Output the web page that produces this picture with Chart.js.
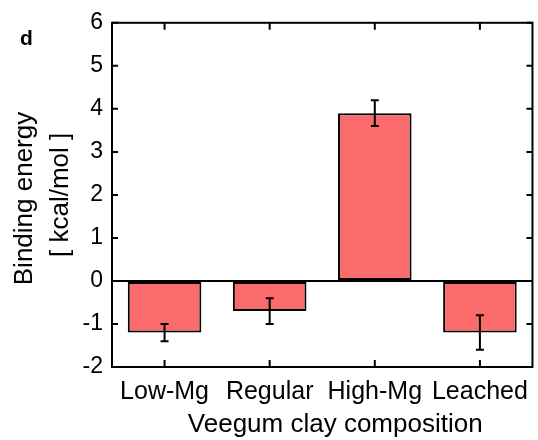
<!DOCTYPE html>
<html>
<head>
<meta charset="utf-8">
<script src="https://cdn.jsdelivr.net/npm/chart.js@4"></script>
<style>
  html, body { margin: 0; padding: 0; background: #fff; }
  #wrap { width: 538px; height: 440px; }
</style>
</head>
<body>
<div id="wrap"><canvas id="energyChart" width="538" height="440"></canvas></div>
<script>
// data
const clays = ["Low-Mg", "Regular", "High-Mg", "Leached"];
const energy = [-1.2, -0.7, 3.9, -1.2];
const energyErr = [0.2, 0.3, 0.3, 0.4];
const yTicks = [-2, -1, 0, 1, 2, 3, 4, 5, 6];

const FONT = "'Liberation Sans', Arial, sans-serif";

// frame, inward ticks, error bars and panel letter
const decorPlugin = {
  id: "decor",
  afterDatasetsDraw(chart) {
    const c = chart.ctx;
    const area = chart.chartArea;
    const x = chart.scales.x;
    const y = chart.scales.y;
    const meta = chart.getDatasetMeta(0);

    c.save();
    c.strokeStyle = "#000";
    c.lineWidth = 2;

    // error bars
    meta.data.forEach((bar, i) => {
      const top = y.getPixelForValue(energy[i] + energyErr[i]);
      const bot = y.getPixelForValue(energy[i] - energyErr[i]);
      c.beginPath();
      c.moveTo(bar.x, top);
      c.lineTo(bar.x, bot);
      c.moveTo(bar.x - 4, top);
      c.lineTo(bar.x + 4, top);
      c.moveTo(bar.x - 4, bot);
      c.lineTo(bar.x + 4, bot);
      c.stroke();
    });

    // box
    c.strokeRect(area.left, area.top, area.right - area.left, area.bottom - area.top);

    // ticks pointing in
    c.beginPath();
    y.ticks.forEach((t, i) => {
      const py = y.getPixelForTick(i);
      c.moveTo(area.left, py);
      c.lineTo(area.left + 6, py);
      c.moveTo(area.right, py);
      c.lineTo(area.right - 6, py);
    });
    x.ticks.forEach((t, i) => {
      const px = x.getPixelForTick(i);
      c.moveTo(px, area.top);
      c.lineTo(px, area.top + 7);
      c.moveTo(px, area.bottom);
      c.lineTo(px, area.bottom - 7);
    });
    c.stroke();

    // panel letter
    c.fillStyle = "#000";
    c.font = "bold 21px " + FONT;
    c.textAlign = "left";
    c.textBaseline = "alphabetic";
    c.fillText("d", 20, 45);
    c.restore();
  }
};

new Chart(document.getElementById("energyChart"), {
  type: "bar",
  data: {
    labels: clays,
    datasets: [{
      data: energy,
      backgroundColor: "#fa6b6b",
      borderColor: "#000",
      borderWidth: 2,
      borderSkipped: false,
      barPercentage: 0.7,
      categoryPercentage: 1.0
    }]
  },
  options: {
    responsive: false,
    animation: false,
    devicePixelRatio: 1,
    layout: { padding: { top: 22, right: 1, left: 0, bottom: 0 } },
    plugins: {
      legend: { display: false },
      tooltip: { enabled: false }
    },
    scales: {
      x: {
        grid: { display: false, drawTicks: false },
        border: { display: false },
        ticks: { color: "#000", font: { family: FONT, size: 25 }, padding: 10, maxRotation: 0, autoSkip: false },
        title: {
          display: true,
          text: "\u2003Veegum clay composition",
          color: "#000",
          font: { family: FONT, size: 26, lineHeight: 1.2 },
          padding: { top: 0, bottom: 0 }
        },
        afterFit(scale) { scale.height = 73; }
      },
      y: {
        min: -2,
        max: 6,
        afterBuildTicks(scale) { scale.ticks = yTicks.map(v => ({ value: v })); },
        grid: {
          drawTicks: false,
          lineWidth: 2,
          color: (ctx) => (ctx.tick && ctx.tick.value === 0 ? "#000" : "rgba(0,0,0,0)")
        },
        border: { display: false },
        ticks: { color: "#000", font: { family: FONT, size: 23 }, padding: 9 },
        title: {
          display: true,
          text: ["Binding energy\u00a0", "[ kcal/mol ]"],
          color: "#000",
          font: { family: FONT, size: 26, lineHeight: 1.38 },
          padding: { top: 7, bottom: 0 }
        },
        afterFit(scale) { scale.width = 112; }
      }
    }
  },
  plugins: [decorPlugin]
});
</script>
</body>
</html>
